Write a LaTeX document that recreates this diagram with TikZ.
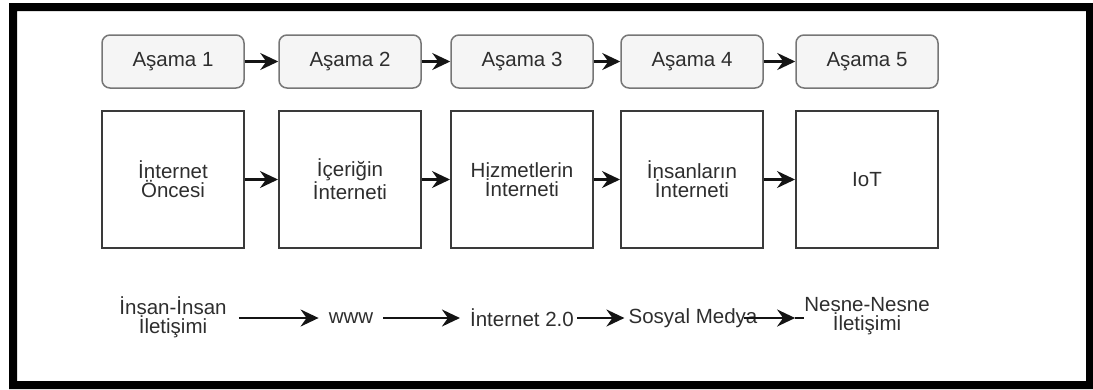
\documentclass[tikz,border=0pt]{standalone}
\usepackage{fontspec}
\setmainfont{Liberation Sans}
\usetikzlibrary{arrows.meta}
\definecolor{stagefill}{HTML}{F5F5F5}
\definecolor{stageline}{HTML}{767676}
\definecolor{boxline}{HTML}{3A3A3A}
\definecolor{txt}{HTML}{2E2E2E}
\definecolor{arrowcol}{HTML}{141414}
\begin{document}
\begin{tikzpicture}[x=1pt,y=-1pt,
  every node/.style={font=\fontsize{20.5pt}{19pt}\selectfont, text=txt},
  stagebox/.style={draw=stageline, fill=stagefill, line width=1.5pt,
    rounded corners=8pt, minimum width=142pt, minimum height=53pt, inner sep=0pt},
  erabox/.style={draw=boxline, fill=white, line width=2pt,
    minimum width=142pt, minimum height=137pt, inner sep=0pt, align=center},
  label/.style={inner sep=0pt, align=center},
  flow/.style={draw=arrowcol, line width=2.2pt,
    -{Stealth[length=18pt,width=17pt,inset=6pt]}},
  stub/.style={draw=arrowcol, line width=2pt}
]
\useasboundingbox (0,0) rectangle (1093,389);
% heavy outer frame
\fill[black, even odd rule] (9,3) rectangle (1093,389) (17,11) rectangle (1086,381);

% stage headers
\node[stagebox] (s1) at (173,61.5) {Aşama 1};
\node[stagebox] (s2) at (350,61.5) {Aşama 2};
\node[stagebox] (s3) at (522,61.5) {Aşama 3};
\node[stagebox] (s4) at (692,61.5) {Aşama 4};
\node[stagebox] (s5) at (867,61.5) {Aşama 5};

% eras
\node[erabox] (e1) at (173,179.5) {İnternet\\Öncesi};
\node[erabox] (e2) at (350,179.5) {İçeriğin\\İnterneti};
\node[erabox] (e3) at (522,179.5) {Hizmetlerin\\İnterneti};
\node[erabox] (e4) at (692,179.5) {İnsanların\\İnterneti};
\node[erabox] (e5) at (867,179.5) {IoT};

% communication types
\node[label] (c1) at (173,317) {İnsan-İnsan\\İletişimi};
\node[label] (c2) at (351,318) {www};
\node[label] (c3) at (522,318) {İnternet 2.0};
\node[label] (c4) at (693,318) {Sosyal Medya};
\node[label] (c5) at (867,316) {Nesne-Nesne\\İletişimi};

% stage sequence
\draw[flow] (s1.east) -- (s2.west);
\draw[flow] (s2.east) -- (s3.west);
\draw[flow] (s3.east) -- (s4.west);
\draw[flow] (s4.east) -- (s5.west);

% era sequence
\draw[flow] (e1.east) -- (e2.west);
\draw[flow] (e2.east) -- (e3.west);
\draw[flow] (e3.east) -- (e4.west);
\draw[flow] (e4.east) -- (e5.west);

% communication sequence
\draw[flow] ([xshift=12pt]c1.east |- c2.west) -- ([xshift=-10pt]c2.west);
\draw[flow] ([xshift=10pt]c2.east) -- ([xshift=-10pt]c3.west);
\draw[flow] ([xshift=3pt]c3.east) -- ([xshift=-4pt]c4.west);
\draw[flow] ([xshift=-14pt]c4.east) -- ([xshift=-9pt]c5.west |- c4.east);
\draw[stub] ([xshift=-9pt]c5.west |- c4.east) -- (c5.west |- c4.east);
\end{tikzpicture}
\end{document}
